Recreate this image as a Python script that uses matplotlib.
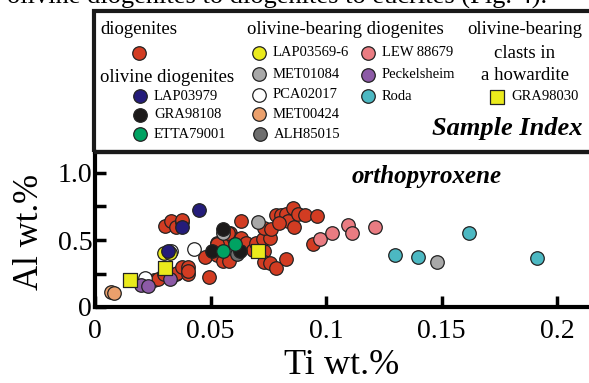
#!/usr/bin/env python3
import matplotlib
matplotlib.use("Agg")
import matplotlib.pyplot as plt
from matplotlib.patches import Rectangle

plt.rcParams["font.family"] = ["Liberation Serif", "DejaVu Serif"]

# --- data (Ti wt.%, Al wt.%) ---
dio_ti = [0.0303, 0.0329, 0.0351, 0.0375, 0.0377,
          0.0254, 0.0274, 0.0300, 0.0329, 0.0350, 0.0355, 0.0377, 0.0401, 0.0404, 0.0401,
          0.0476, 0.0495, 0.0527, 0.0527, 0.0560, 0.0556, 0.0581, 0.0584, 0.0600, 0.0632,
          0.0632, 0.0654, 0.0683, 0.0697, 0.0733, 0.0726, 0.0758, 0.0733, 0.0762, 0.0730,
          0.0759, 0.0784, 0.0827, 0.0784, 0.0805, 0.0827, 0.0856, 0.0834, 0.0860, 0.0798,
          0.0877, 0.0909, 0.0960, 0.0945, 0.0574, 0.0528]
dio_al = [0.604, 0.644, 0.600, 0.637, 0.649,
          0.200, 0.207, 0.246, 0.222, 0.246, 0.256, 0.296, 0.296, 0.246, 0.270,
          0.375, 0.226, 0.388, 0.480, 0.475, 0.343, 0.343, 0.555, 0.505, 0.513,
          0.644, 0.475, 0.425, 0.480, 0.418, 0.505, 0.513, 0.587, 0.580, 0.338,
          0.330, 0.289, 0.358, 0.687, 0.687, 0.694, 0.736, 0.644, 0.600, 0.625,
          0.694, 0.687, 0.679, 0.468, 0.555, 0.470]

lap03979_ti = [0.0315, 0.0375, 0.0452]
lap03979_al = [0.418, 0.595, 0.724]
gra98108_ti = [0.0556, 0.0505, 0.0629]
gra98108_al = [0.580, 0.420, 0.420]
etta79001_ti = [0.0556, 0.0606]
etta79001_al = [0.420, 0.468]

lap03569_ti = [0.0297, 0.0326]
lap03569_al = [0.400, 0.400]
met01084_ti = [0.0555, 0.0707, 0.1480]
met01084_al = [0.555, 0.637, 0.333]
pca02017_ti = [0.0218, 0.0329, 0.0430]
pca02017_al = [0.214, 0.420, 0.430]
met00424_ti = [0.0070, 0.0084]
met00424_al = [0.114, 0.102]
alh85015_ti = [0.0615]
alh85015_al = [0.393]
lew88679_ti = [0.0974, 0.1024, 0.1097, 0.1113, 0.1213]
lew88679_al = [0.507, 0.555, 0.612, 0.555, 0.600]
peckel_ti = [0.0199, 0.0228, 0.0326]
peckel_al = [0.164, 0.157, 0.207]
roda_ti = [0.1300, 0.1397, 0.1620, 0.1913]
roda_al = [0.386, 0.371, 0.555, 0.363]

gra98030_ti = [0.0152, 0.0305, 0.0707]
gra98030_al = [0.200, 0.289, 0.420]

C_DIO = "#d23c22"
C_NAVY = "#241c7a"
C_BLACK = "#1c1a1a"
C_GREEN = "#00a262"
C_YELLOW = "#eaea1c"
C_GRAY = "#a8a8a8"
C_WHITE = "#ffffff"
C_ORANGE = "#eba06c"
C_DGRAY = "#6e6e6e"
C_PINK = "#ea7c82"
C_PURPLE = "#8c5aa6"
C_TEAL = "#4cb8c2"

W, H = 589, 383
S = 95
SQ = 110
EW = 0.9

fig = plt.figure(figsize=(W / 100, H / 100), dpi=100)


def fx(px):
    return px / W


def fy(py):
    return 1 - py / H


# main axes (runs past the right edge, like the cropped original)
ax_w = 1.05 * W - 95
ax = fig.add_axes([fx(95), fy(307), ax_w / W, fy(152) - fy(307)])
ax.set_xlim(0, ax_w / 2310)
ax.set_ylim(0, 155 / 134)

pt = dict(s=S, edgecolors="#222222", linewidths=EW, zorder=3)
ax.scatter(dio_ti, dio_al, c=C_DIO, **pt)
ax.scatter(pca02017_ti, pca02017_al, c=C_WHITE, **pt)
ax.scatter(lap03569_ti, lap03569_al, c=C_YELLOW, **pt)
ax.scatter(met01084_ti, met01084_al, c=C_GRAY, **pt)
ax.scatter(alh85015_ti, alh85015_al, c=C_DGRAY, **pt)
ax.scatter(met00424_ti, met00424_al, c=C_ORANGE, **pt)
ax.scatter(lew88679_ti, lew88679_al, c=C_PINK, **pt)
ax.scatter(peckel_ti, peckel_al, c=C_PURPLE, **pt)
ax.scatter(roda_ti, roda_al, c=C_TEAL, **pt)
ax.scatter(lap03979_ti, lap03979_al, c=C_NAVY, **pt)
ax.scatter(gra98108_ti, gra98108_al, c=C_BLACK, **pt)
ax.scatter(etta79001_ti, etta79001_al, c=C_GREEN, **pt)
ax.scatter(gra98030_ti, gra98030_al, c=C_YELLOW, marker="s", s=SQ,
           edgecolors="#222222", linewidths=EW, zorder=4)

for sp in ax.spines.values():
    sp.set_linewidth(3)
ax.spines["right"].set_visible(False)

ax.set_xticks([0, 0.05, 0.1, 0.15, 0.2])
ax.set_xticklabels(["0", "0.05", "0.1", "0.15", "0.2"])
ax.set_yticks([0, 0.5, 1.0])
ax.set_yticklabels(["0", "0.5", "1.0"])
ax.set_yticks([0.25, 0.75], minor=True)
ax.tick_params(which="both", direction="in", length=8, width=2.5,
               labelsize=20)
ax.tick_params(axis="x", pad=9)
ax.tick_params(axis="y", pad=2)

ax.set_xlabel("Ti wt.%", fontsize=26)
ax.xaxis.label.set_va("center")
ax.xaxis.set_label_coords((342 - 95) / ax_w, -(366 - 307) / 155)
ax.set_ylabel("Al wt.%", fontsize=25)
ax.yaxis.label.set_va("center")
ax.yaxis.set_label_coords((29 - 95) / ax_w, (307 - 232) / 155)

ax.text(fx(427), fy(177), "orthopyroxene", transform=fig.transFigure,
        fontsize=18, fontweight="bold", fontstyle="italic",
        ha="center", va="center")

# sample index box
fig.add_artist(Rectangle((fx(94), fy(152)), fx(W + 20) - fx(94), fy(11) - fy(152),
                         transform=fig.transFigure, fill=False,
                         lw=3, edgecolor="#1a1a1a", zorder=5))

lax = fig.add_axes([0, 0, 1, 1], zorder=6)
lax.set_xlim(0, W)
lax.set_ylim(H, 0)
lax.axis("off")
lax.patch.set_alpha(0)

HDR = 13.5
LBL = 10.5


def entry(x, y, color, label, marker="o"):
    lax.scatter([x], [y], s=S if marker == "o" else SQ, c=color, marker=marker,
                edgecolors="#222222", linewidths=EW)
    lax.text(x + 14, y, label, fontsize=LBL, va="center", ha="left")


lax.text(100, 30, "diogenites", fontsize=HDR, va="center")
lax.scatter([139], [53], s=S, c=C_DIO, edgecolors="#222222", linewidths=EW)
lax.text(100, 77, "olivine diogenites", fontsize=HDR, va="center")
entry(140, 96, C_NAVY, "LAP03979")
entry(140, 115, C_BLACK, "GRA98108")
entry(140, 134, C_GREEN, "ETTA79001")

lax.text(247, 30, "olivine-bearing diogenites", fontsize=HDR, va="center")
entry(259, 53, C_YELLOW, "LAP03569-6")
entry(259, 74, C_GRAY, "MET01084")
entry(259, 95, C_WHITE, "PCA02017")
entry(259, 114, C_ORANGE, "MET00424")
entry(260, 134, C_DGRAY, "ALH85015")

entry(368, 53, C_PINK, "LEW 88679")
entry(368, 75, C_PURPLE, "Peckelsheim")
entry(368, 96, C_TEAL, "Roda")

lax.text(525, 30, "olivine-bearing", fontsize=HDR, va="center", ha="center")
lax.text(525, 53, "clasts in", fontsize=HDR, va="center", ha="center")
lax.text(525, 75, "a howardite", fontsize=HDR, va="center", ha="center")
entry(497, 97, C_YELLOW, "GRA98030", marker="s")

lax.text(583, 128, "Sample Index", fontsize=19, fontweight="bold",
         fontstyle="italic", ha="right", va="center")

# caption line cut off at the top of the crop
lax.text(7, 4, "olivine diogenites to diogenites to eucrites (Fig. 4).",
         fontsize=19, ha="left", va="baseline")

fig.savefig("out.png", dpi=100)
